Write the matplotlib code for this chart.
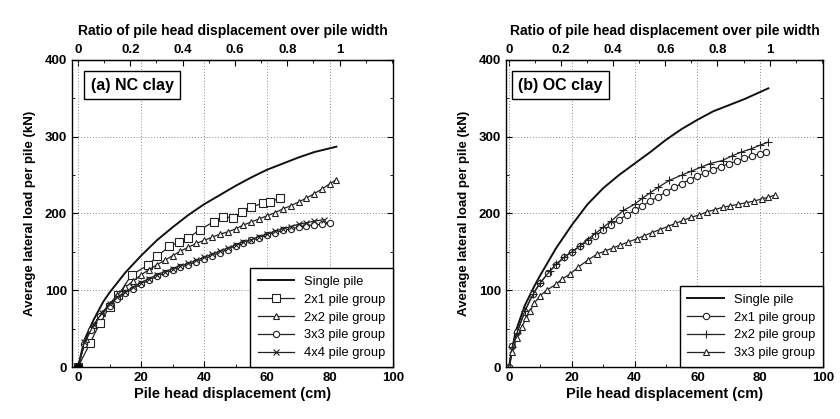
import matplotlib
matplotlib.use("Agg")
from matplotlib import pyplot as plt
from matplotlib.ticker import MultipleLocator

plt.rcParams["font.family"] = ["Liberation Sans", "DejaVu Sans"]

PILE_WIDTH = 83.0  # cm, ratio 1 on the top axis

#+++++ (a) NC clay
nc_single_x = [0, 2, 5, 8, 10, 15, 20, 25, 30, 35, 40, 45, 50, 55, 60, 65, 70, 75, 82]
nc_single_y = [0, 35, 62, 85, 97, 123, 145, 165, 182, 198, 212, 224, 236, 247, 257, 265, 273, 280, 287]

nc_2x1_x = [0, 3.8, 7, 10, 12.8, 17, 22.3, 25, 29, 32, 35, 38.7, 43, 46, 49.3, 52, 55, 58.8, 61, 64]
nc_2x1_y = [0, 31, 58, 78, 94, 120, 133, 144, 157, 163, 168, 179, 189, 196, 194, 202, 209, 213, 215, 220]

nc_2x2_x = [0, 2.5, 5, 7.5, 10, 12.5, 15, 17.5, 20, 22.5, 25, 27.5, 30, 32.5, 35, 37.5, 40, 42.5, 45, 47.5,
            50, 52.5, 55, 57.5, 60, 62.5, 65, 67.5, 70, 72.5, 75, 77.5, 80, 82]
nc_2x2_y = [0, 36, 55, 70, 82, 94, 104, 112, 120, 127, 133, 139, 145, 151, 156, 161, 165, 169, 173, 176,
            180, 185, 189, 193, 197, 201, 206, 210, 215, 220, 226, 232, 239, 244]

nc_3x3_x = [0, 2, 4, 7, 10, 12.5, 15, 17.5, 20, 22.5, 25, 27.5, 30, 32.5, 35, 37.5, 40, 42.5, 45, 47.5,
            50, 52.5, 55, 57.5, 60, 62.5, 65, 67.5, 70, 72.5, 75, 77.5, 80]
nc_3x3_y = [0, 30, 48, 66, 80, 89, 96, 102, 108, 113, 118, 122, 126, 130, 133, 137, 141, 145, 149, 153,
            158, 161, 165, 168, 172, 175, 178, 180, 182, 184, 185, 186, 187]

nc_4x4_x = [0, 2, 5, 7.5, 10, 12.5, 15, 17.5, 20, 22.5, 25, 27.5, 30, 32.5, 35, 37.5, 40, 42.5, 45, 47.5,
            50, 52.5, 55, 57.5, 60, 62.5, 65, 67.5, 70, 72.5, 75, 78]
nc_4x4_y = [0, 32, 55, 70, 82, 91, 98, 104, 110, 115, 120, 124, 128, 132, 135, 139, 143, 147, 151, 155,
            159, 163, 166, 170, 173, 177, 180, 183, 186, 188, 190, 192]
#-----

#+++++ (b) OC clay
oc_single_x = [0, 2, 5, 8, 10, 15, 20, 25, 30, 35, 40, 45, 50, 55, 60, 65, 70, 75, 82.6]
oc_single_y = [0, 45, 80, 105, 120, 155, 185, 212, 233, 250, 265, 280, 296, 310, 322, 333, 341, 349, 363]

oc_2x1_x = [0, 1, 2.5, 5, 7.5, 10, 12.5, 15, 17.5, 20, 22.5, 25, 27.5, 30, 32.5, 35, 37.5, 40, 42.5, 45,
            47.5, 50, 52.5, 55, 57.5, 60, 62.5, 65, 67.5, 70, 72.5, 75, 77.5, 80, 82]
oc_2x1_y = [0, 28, 45, 72, 95, 110, 123, 133, 143, 150, 157, 164, 171, 178, 185, 192, 198, 204, 210, 216,
            222, 228, 234, 239, 244, 249, 253, 257, 261, 265, 268, 272, 275, 278, 280]

oc_2x2_x = [0, 1, 2.5, 5, 7.7, 10, 13, 15, 17.5, 20, 22.6, 25, 27.5, 30, 32.5, 36.4, 40, 42.5, 45, 47.5,
            51, 55, 58, 61, 64, 68, 71, 74, 77, 80, 82.6]
oc_2x2_y = [0, 26, 44, 73, 95, 110, 125, 134, 143, 150, 158, 166, 174, 182, 190, 204, 212, 220, 227, 234,
            243, 250, 255, 260, 265, 269, 275, 280, 284, 289, 293]

oc_3x3_x = [0, 1, 2.5, 4, 5.5, 6.7, 8, 9.9, 12, 15, 17, 19.4, 22, 25, 28, 30.5, 33, 35.5, 38, 40.7, 43,
            45.5, 48, 50.5, 53, 55.5, 58, 60.5, 63, 65.5, 68, 70.5, 73, 75.5, 78, 80.5, 82.5, 84.7]
oc_3x3_y = [0, 20, 38, 52, 64, 73, 83, 93, 100, 108, 115, 121, 130, 139, 147, 151, 155, 159, 163, 167, 171,
            175, 179, 183, 187, 191, 195, 198, 202, 205, 208, 210, 212, 214, 216, 219, 221, 224]
#-----

line_kw = dict(color="#222222", lw=0.9, mfc="white", mew=0.8)


def style_axes(ax, xmin_lim):
    ax.set_xlim(xmin_lim, 100)
    ax.set_ylim(0, 400)
    ax.xaxis.set_major_locator(MultipleLocator(20))
    ax.xaxis.set_minor_locator(MultipleLocator(10))
    ax.yaxis.set_major_locator(MultipleLocator(100))
    ax.yaxis.set_minor_locator(MultipleLocator(50))
    ax.tick_params(which="both", direction="in", right=True, labelsize=9.5)
    ax.tick_params(which="major", length=4)
    ax.tick_params(which="minor", length=2.5)
    for lab in ax.get_xticklabels() + ax.get_yticklabels():
        lab.set_fontweight("bold")
    ax.grid(True, which="major", ls=(0, (1, 2)), color="#888888", lw=0.7)
    for s in ax.spines.values():
        s.set_linewidth(1.0)
    ax.set_xlabel("Pile head displacement (cm)", fontsize=10.5, fontweight="bold", labelpad=2)
    ax.set_ylabel("Average lateral load per pile (kN)", fontsize=9.5, fontweight="bold", labelpad=6)

    top = ax.secondary_xaxis("top", functions=(lambda x: x / PILE_WIDTH, lambda r: r * PILE_WIDTH))
    top.set_xticks([0, 0.2, 0.4, 0.6, 0.8, 1])
    top.set_xticklabels(["0", "0.2", "0.4", "0.6", "0.8", "1"], fontweight="bold")
    top.xaxis.set_minor_locator(MultipleLocator(0.1))
    top.tick_params(which="both", direction="in", labelsize=9.5, pad=3)
    top.tick_params(which="major", length=4)
    top.tick_params(which="minor", length=2.5)
    top.set_xlabel("Ratio of pile head displacement over pile width", fontsize=10,
                   fontweight="bold", labelpad=6)


def add_legend(ax):
    leg = ax.legend(loc="lower right", fontsize=9.3, frameon=True, fancybox=False,
                    edgecolor="black", framealpha=1, borderaxespad=0.0, handlelength=2.8,
                    labelspacing=0.45, borderpad=0.6)
    leg.get_frame().set_linewidth(1.0)


fig = plt.figure(figsize=(8.4, 4.19), dpi=100)
ax1 = fig.add_axes([0.0854, 0.124, 0.3826, 0.733])
ax2 = fig.add_axes([0.6023, 0.124, 0.3774, 0.733])

#+++++ left
ax1.plot(nc_single_x, nc_single_y, color="#111111", lw=1.4, label="Single pile")
ax1.plot(nc_2x1_x, nc_2x1_y, marker="s", ms=6, label="2x1 pile group", **line_kw)
ax1.plot(nc_2x2_x, nc_2x2_y, marker="^", ms=4.5, label="2x2 pile group", **line_kw)
ax1.plot(nc_3x3_x, nc_3x3_y, marker="o", ms=4.5, label="3x3 pile group", **line_kw)
ax1.plot(nc_4x4_x, nc_4x4_y, marker="x", ms=5, label="4x4 pile group", **line_kw)
ax1.plot([0], [0], "ko", ms=5)
style_axes(ax1, -2)
ax1.text(4, 377, "(a) NC clay", fontsize=11.5, fontweight="bold", va="top",
         bbox=dict(boxstyle="square,pad=0.4", fc="white", ec="black", lw=1.0))
add_legend(ax1)
#-----

#+++++ right
ax2.plot(oc_single_x, oc_single_y, color="#111111", lw=1.4, label="Single pile")
ax2.plot(oc_2x1_x, oc_2x1_y, marker="o", ms=4.5, label="2x1 pile group", **line_kw)
ax2.plot(oc_2x2_x, oc_2x2_y, marker="+", ms=6, label="2x2 pile group", **line_kw)
ax2.plot(oc_3x3_x, oc_3x3_y, marker="^", ms=4.5, label="3x3 pile group", **line_kw)
style_axes(ax2, -1)
ax2.text(3, 377, "(b) OC clay", fontsize=11.5, fontweight="bold", va="top",
         bbox=dict(boxstyle="square,pad=0.4", fc="white", ec="black", lw=1.0))
add_legend(ax2)
#-----

fig.savefig("out.png", dpi=100)
